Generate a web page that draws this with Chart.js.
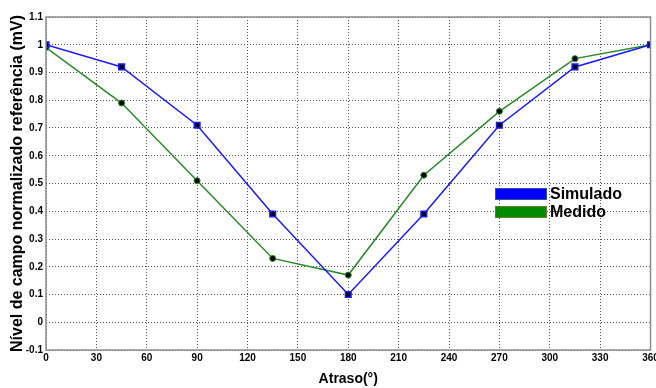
<!DOCTYPE html>
<html>
<head>
<meta charset="utf-8">
<script src="https://cdn.jsdelivr.net/npm/chart.js@4"></script>
<style>
  html, body { margin: 0; padding: 0; background: #fff; }
  #wrap { width: 656px; height: 388px; }
</style>
</head>
<body>
<div id="wrap"><canvas id="chart" width="656" height="388"></canvas></div>
<script>
// phase delay (degrees) and normalized field level
const atraso = [0, 45, 90, 135, 180, 225, 270, 315, 360];
const simulado = [1.00, 0.92, 0.71, 0.39, 0.10, 0.39, 0.71, 0.92, 1.00];
const medido = [0.99, 0.79, 0.51, 0.23, 0.17, 0.53, 0.76, 0.95, 1.00];
const seriesNames = ['Simulado', 'Medido'];

const FONT = 'Liberation Sans, Arial, sans-serif';

// simple legend box drawn inside the plot, like the original
const legendPlugin = {
  id: 'boxLegend',
  afterDraw(chart) {
    const ctx = chart.ctx;
    const a = chart.chartArea;
    ctx.save();
    // frame round the plot area
    ctx.strokeStyle = '#8c8c8c';
    ctx.lineWidth = 1.5;
    ctx.strokeRect(a.left, a.top, a.right - a.left, a.bottom - a.top);

    const items = [
      { name: seriesNames[0], fill: '#0000ff', edge: '#3050a0' },
      { name: seriesNames[1], fill: '#008a00', edge: '#6a7a30' }
    ];
    let y = 188;
    items.forEach(it => {
      ctx.fillStyle = it.fill;
      ctx.fillRect(495, y, 52, 12);
      ctx.strokeStyle = it.edge;
      ctx.lineWidth = 1;
      ctx.strokeRect(495.5, y + 0.5, 51, 11);
      ctx.fillStyle = '#000';
      ctx.font = 'bold 16px ' + FONT;
      ctx.textBaseline = 'alphabetic';
      ctx.fillText(it.name, 550, y + 11);
      y += 18;
    });
    ctx.restore();
  }
};

new Chart(document.getElementById('chart'), {
  type: 'line',
  data: {
    datasets: [
      {
        label: seriesNames[0],
        data: atraso.map((x, i) => ({ x: x, y: simulado[i] })),
        borderColor: '#1a1aff',
        borderWidth: 1.5,
        pointStyle: 'rect',
        pointRadius: 4,
        pointBackgroundColor: '#000',
        pointBorderColor: '#1a1aff',
        pointBorderWidth: 1.5,
        tension: 0
      },
      {
        label: seriesNames[1],
        data: atraso.map((x, i) => ({ x: x, y: medido[i] })),
        borderColor: '#2a8a2a',
        borderWidth: 1.5,
        pointStyle: 'circle',
        pointRadius: 3,
        pointBackgroundColor: '#000',
        pointBorderColor: '#2a8a2a',
        pointBorderWidth: 1,
        tension: 0
      }
    ]
  },
  options: {
    responsive: false,
    animation: false,
    layout: { padding: { top: 17, right: 4, left: 0, bottom: 0 } },
    plugins: {
      legend: { display: false },
      tooltip: { enabled: false }
    },
    scales: {
      x: {
        type: 'linear',
        min: 0,
        max: 360,
        ticks: {
          stepSize: 30,
          color: '#000',
          font: { family: FONT, size: 10, weight: 'bold' },
          padding: 2,
          maxRotation: 0
        },
        grid: {
          color: '#555',
          lineWidth: 1,
          drawTicks: false
        },
        border: { display: false, dash: [1, 2] },
        title: {
          display: true,
          text: 'Atraso(°)',
          color: '#000',
          font: { family: FONT, size: 14, weight: 'bold' },
          padding: { top: 5, bottom: 0 }
        },
        afterFit(scale) {
          scale.height = 38;
          scale.paddingRight = 0;
        }
      },
      y: {
        min: -0.1,
        max: 1.1,
        ticks: {
          stepSize: 0.1,
          color: '#000',
          font: { family: FONT, size: 10, weight: 'bold' },
          padding: 3,
          callback: v => String(Math.round(v * 10) / 10)
        },
        grid: {
          color: '#555',
          lineWidth: 1,
          drawTicks: false
        },
        border: { display: false, dash: [1, 2] },
        title: {
          display: true,
          text: 'Nível de campo normalizado referência (mV)',
          color: '#000',
          font: { family: FONT, size: 16, weight: 'bold' },
          padding: { top: 8, bottom: 0 }
        },
        afterFit(scale) { scale.width = 46; }
      }
    }
  },
  plugins: [legendPlugin]
});
</script>
</body>
</html>
